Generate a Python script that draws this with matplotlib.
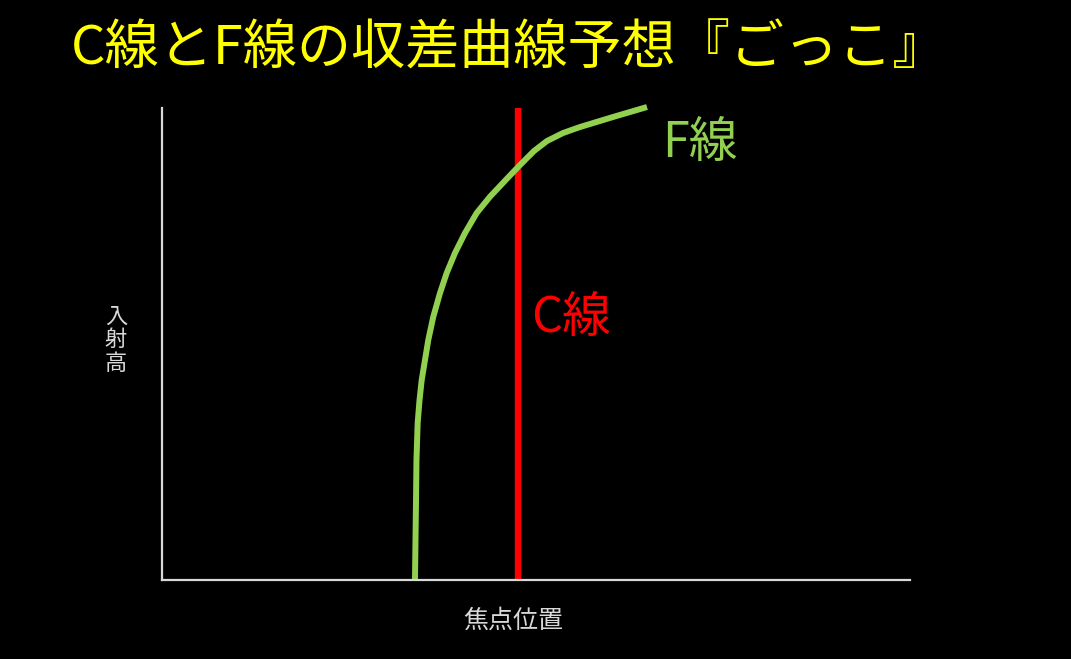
import numpy as np
import matplotlib as mpl
mpl.use('Agg')
import matplotlib.pyplot as plt

plt.rcParams['font.family'] = ['Noto Sans CJK JP', 'DejaVu Sans']

# --- data (axis units 0..100) ---
f_x = [33.82, 33.89, 33.96, 34.02, 34.18, 34.43, 34.72, 35.16, 35.60, 36.27,
       37.17, 38.06, 39.17, 40.51, 42.07, 43.85, 45.95, 47.86, 49.73, 51.47,
       53.61, 55.88, 60.29, 64.84]
f_y = [0.0, 8.47, 16.95, 25.42, 33.26, 38.14, 42.37, 46.61, 50.85, 55.78,
       60.81, 65.04, 69.28, 73.52, 77.75, 81.21, 84.75, 87.92, 90.89, 93.01,
       94.70, 95.97, 98.09, 100.21]
c_x = [47.6, 47.6]
c_y = [0.0, 100.0]

title = 'C線とF線の収差曲線予想『ごっこ』'
xlabel = '焦点位置'
ylabel = '入射高'
f_label = 'F線'
c_label = 'C線'

green = '#92D050'
red = '#FF0000'
yellow = '#FFFF00'
axis_col = '#D9D9D9'

W, H = 1071, 659
fig = plt.figure(figsize=(W / 100, H / 100), dpi=100, facecolor='black')
ax = fig.add_axes([162 / W, 1 - 580 / H, 748 / W, 472 / H])
ax.set_facecolor('black')

ax.plot(c_x, c_y, color=red, lw=4.6, solid_capstyle='butt', clip_on=False)
ax.plot(f_x, f_y, color=green, lw=4.3, solid_capstyle='butt',
        solid_joinstyle='round', clip_on=False)

ax.set_xlim(0, 100)
ax.set_ylim(0, 100)
ax.set_xticks([])
ax.set_yticks([])
for side in ['top', 'right']:
    ax.spines[side].set_visible(False)
for side in ['left', 'bottom']:
    ax.spines[side].set_color(axis_col)
    ax.spines[side].set_linewidth(1.6)

# labels next to the lines
ax.text(66.8, 92.6, f_label, color=green, fontsize=35, ha='left', va='center')
ax.text(49.3, 55.4, c_label, color=red, fontsize=35, ha='left', va='center')

# axis titles
fig.text(513 / W, 1 - 621 / H, xlabel, color=axis_col, fontsize=18,
         ha='center', va='center')
fig.text(116 / W, 1 - 340 / H, '\n'.join(ylabel), color=axis_col, fontsize=16,
         ha='center', va='center', linespacing=1.05)

fig.text(71 / W, 1 - 49 / H, title, color=yellow, fontsize=39,
         ha='left', va='center')

fig.savefig('out.png', dpi=100, facecolor='black')
